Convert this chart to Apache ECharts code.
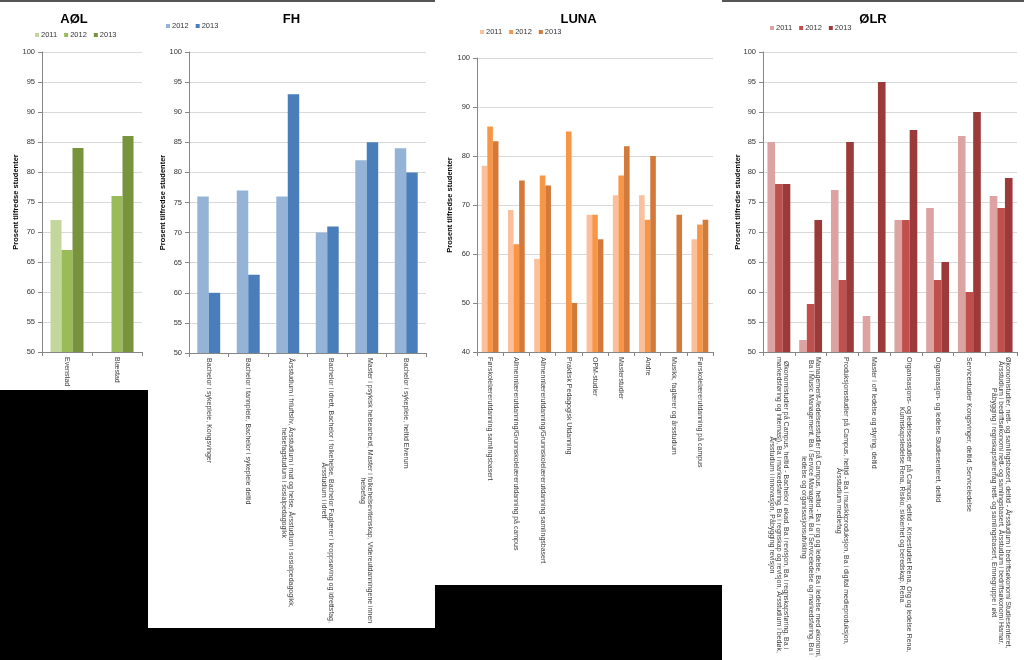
<!DOCTYPE html>
<html>
<head>
<meta charset="utf-8">
<script src="https://cdn.jsdelivr.net/npm/echarts@6/dist/echarts.min.js"></script>
<style>
html,body{margin:0;padding:0;background:#000;width:1024px;height:660px;overflow:hidden;}
.p{position:absolute;top:0;background:#fff;}
</style>
</head>
<body>
<div id="aol" class="p" style="left:0;width:148px;height:390px;border-top:2px solid #555;box-sizing:border-box;"></div>
<div id="fh" class="p" style="left:148px;width:287px;height:628px;border-top:2px solid #555;box-sizing:border-box;"></div>
<div id="luna" class="p" style="left:435px;width:287px;height:585px;"></div>
<div id="olr" class="p" style="left:722px;width:302px;height:660px;border-top:2px solid #555;box-sizing:border-box;"></div>
<script>
// ---------- AØL ----------
const aolCategories = ["Evenstad", "Blæstad"];
const aol2011 = [72, null];
const aol2012 = [67, 76];
const aol2013 = [84, 86];

// ---------- FH ----------
const fhCategories = [
  "Bachelor i sykepleie, Kongsvinger",
  "Bachelor i tannpleie, Bachelor i sykepleie deltid",
  "Årsstudium i friluftsliv, Årsstudium i mat og helse, Årsstudium i sosialpedagogikk,\nhelsefagstudium i sosialpedagogikk",
  "Bachelor i idrett, Bachelor i folkehelse, Bachelor Faglærer i kroppsøving og idrettsfag,\nÅrsstudium i idrett",
  "Master i psykisk helsearbeid, Master i folkehelsevitenskap, Videreutdanningene innen\nhelsefag",
  "Bachelor i sykepleie, heltid Elverum"
];
const fh2012 = [76, 77, 76, 70, 82, 84];
const fh2013 = [60, 63, 93, 71, 85, 80];

// ---------- LUNA ----------
const lunaCategories = [
  "Førskolelærerutdanning samlingsbasert",
  "Allmennlærerutdanning/Grunnskolelærerutdanning på campus",
  "Allmennlærerutdanning/Grunnskolelærerutdanning samlingsbasert",
  "Praktisk Pedagogisk Utdanning",
  "OPM-studier",
  "Masterstudier",
  "Andre",
  "Musikk, faglærer og årsstudium",
  "Førskolelærerutdanning på campus"
];
const luna2011 = [78, 69, 59, null, 68, 72, 72, null, 63];
const luna2012 = [86, 62, 76, 85, 68, 76, 67, null, 66];
const luna2013 = [83, 75, 74, 50, 63, 82, 80, 68, 67];

// ---------- ØLR ----------
const olrCategories = [
  "Økonomistudier på Campus, heltid - Bachelor i økad, Ba i revisjon, Ba i regnskapsføring, Ba i\nmarkedsføring og internasj), Ba i markedsføring, Ba i regnskap og revisjon, Årsstudium i bedøk,\nÅrsstudium i innovasjon, Påbygging revisjon",
  "Management-/ledelsesstudier på Campus, heltid - Ba i org og ledelse, Ba i ledelse med økonomi,\nBa i Music Management, Ba i Service Management, Ba i Serviceledelse og markedsføring, Ba i\nledelse og organisasjonsutvikling",
  "Produksjonsstudier på Campus, heltid - Ba i musikkproduksjon, Ba i digital medieproduksjon,\nÅrsstudium mediefag",
  "Master i off ledelse og styring, deltid",
  "Organisasjons- og ledelsesstudier på Campus, deltid - Krisestudiet Rena, Org og ledelse Rena,\nKunnskapsledelse Rena, Risiko, sikkerhet og beredskap, Rena",
  "Organisasjon- og ledelse Studiesenteret, deltid",
  "Servicestudier Kongsvinger, deltid, Serviceledelse",
  "Økonomistudier, nett- og samlingsbasert, deltid - Årsstudium i bedriftsøkonomi Studiesenteret,\nÅrsstudium i bedriftsøkonomi nett- og samlingsbasert, Årsstudium i bedriftsøkonomi Hamar,\nPåbygging i regnskapsførerfag nett- og samlingsbasert, Emnegruppe i økt"
];
const olr2011 = [85, 52, 77, 56, 72, 74, 86, 76];
const olr2012 = [78, 58, 62, null, 72, 62, 60, 74];
const olr2013 = [78, 72, 85, 95, 87, 65, 90, 79];

const yName = "Prosent tilfredse studenter";
const FONT = "Liberation Sans";

function build(cfg) {
  return {
    animation: false,
    textStyle: { fontFamily: FONT },
    title: {
      text: cfg.title, left: 'center', top: cfg.titleTop,
      textStyle: { fontSize: 13, fontWeight: 'bold', color: '#000', fontFamily: FONT }
    },
    legend: {
      data: cfg.series.map(s => s.name),
      left: cfg.legendLeft, top: cfg.legendTop,
      icon: 'rect', itemWidth: 4, itemHeight: 4, itemGap: 7, padding: 0,
      textStyle: { fontSize: 7.5, color: '#333', fontFamily: FONT, padding: [0, 0, 0, -3] }
    },
    grid: {
      left: cfg.grid.left, top: cfg.grid.top, width: cfg.grid.width, height: cfg.grid.height,
      containLabel: false, outerBoundsMode: 'none'
    },
    xAxis: {
      type: 'category', data: cfg.categories,
      axisLine: { lineStyle: { color: '#868686', width: 1 } },
      axisTick: { show: true, length: 4, lineStyle: { color: '#868686' } },
      axisLabel: {
        interval: 0, rotate: -90, margin: 5, color: '#404040',
        fontSize: 7, fontFamily: FONT, lineHeight: 7,
        formatter: v => v.split('\n').map(l => '{c|' + l + '}').join('\n'),
        rich: { c: { align: 'center', fontSize: 7, lineHeight: 7, color: '#404040', fontFamily: FONT } }
      }
    },
    yAxis: {
      type: 'value', min: cfg.ymin, max: 100, interval: cfg.yint,
      name: yName, nameLocation: 'middle', nameRotate: 90, nameGap: cfg.nameGap,
      nameMoveOverlap: false,
      nameTextStyle: { fontSize: 7.5, fontWeight: 'bold', color: '#000', fontFamily: FONT },
      axisLine: { show: true, lineStyle: { color: '#868686' } },
      axisTick: { show: true, length: 4, lineStyle: { color: '#868686' } },
      axisLabel: { fontSize: 7.5, color: '#333', margin: 7, fontFamily: FONT },
      splitLine: { lineStyle: { color: '#d9d9d9' } }
    },
    series: cfg.series.map(s => ({
      name: s.name, type: 'bar', data: s.data,
      barGap: '0%', barCategoryGap: cfg.catGap,
      itemStyle: { color: s.color }
    }))
  };
}

const charts = [
  ['aol', {
    title: 'AØL', titleTop: 6, legendLeft: 35, legendTop: 29, nameGap: 22,
    grid: { left: 42, top: 50, width: 100, height: 300 },
    categories: aolCategories, ymin: 50, yint: 5, catGap: '34%',
    series: [
      { name: '2011', data: aol2011, color: '#c3d69b' },
      { name: '2012', data: aol2012, color: '#9bbb59' },
      { name: '2013', data: aol2013, color: '#77933c' }
    ]
  }],
  ['fh', {
    title: 'FH', titleTop: 6, legendLeft: 18, legendTop: 20, nameGap: 22,
    grid: { left: 41, top: 50, width: 237, height: 301 },
    categories: fhCategories, ymin: 50, yint: 5, catGap: '42%',
    series: [
      { name: '2012', data: fh2012, color: '#95b3d7' },
      { name: '2013', data: fh2013, color: '#4a7ebb' }
    ]
  }],
  ['luna', {
    title: 'LUNA', titleTop: 8, legendLeft: 45, legendTop: 28, nameGap: 23,
    grid: { left: 42, top: 58, width: 236, height: 294 },
    categories: lunaCategories, ymin: 40, yint: 10, catGap: '36%',
    series: [
      { name: '2011', data: luna2011, color: '#fbbf9b' },
      { name: '2012', data: luna2012, color: '#f79646' },
      { name: '2013', data: luna2013, color: '#d3793a' }
    ]
  }],
  ['olr', {
    title: 'ØLR', titleTop: 6, legendLeft: 48, legendTop: 22, nameGap: 21,
    grid: { left: 41, top: 50, width: 254, height: 300 },
    categories: olrCategories, ymin: 50, yint: 5, catGap: '28%',
    series: [
      { name: '2011', data: olr2011, color: '#dda3a2' },
      { name: '2012', data: olr2012, color: '#c0504d' },
      { name: '2013', data: olr2013, color: '#9b3a38' }
    ]
  }]
];

charts.forEach(([id, cfg]) => {
  const c = echarts.init(document.getElementById(id), null, { renderer: 'canvas' });
  c.setOption(build(cfg));
});
</script>
</body>
</html>
